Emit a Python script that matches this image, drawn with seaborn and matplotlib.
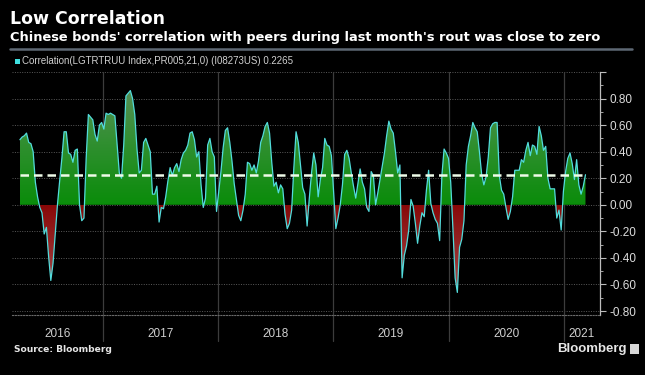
import numpy as np
import pandas as pd
import matplotlib
matplotlib.use("Agg")
import matplotlib.pyplot as plt
import matplotlib.dates as mdates
from matplotlib.colors import LinearSegmentedColormap
from matplotlib.path import Path
from matplotlib.lines import Line2D
from matplotlib.patches import Rectangle
import seaborn as sns

# --- data (weekly samples) ---
start_date = "2016-04-13"
corr_values = [
    0.49, 0.51, 0.52, 0.54, 0.47, 0.46, 0.40, 0.17, 0.06, -0.02,
    -0.06, -0.22, -0.17, -0.39, -0.57, -0.44, -0.22, 0.00, 0.18, 0.35,
    0.55, 0.55, 0.39, 0.38, 0.32, 0.41, 0.42, 0.00, -0.12, -0.10,
    0.35, 0.68, 0.66, 0.64, 0.53, 0.48, 0.60, 0.62, 0.57, 0.69,
    0.68, 0.69, 0.68, 0.67, 0.45, 0.24, 0.20, 0.45, 0.82, 0.84,
    0.86, 0.80, 0.68, 0.42, 0.24, 0.26, 0.47, 0.50, 0.45, 0.40,
    0.08, 0.08, 0.14, -0.13, -0.02, -0.03, 0.06, 0.18, 0.28, 0.22,
    0.28, 0.31, 0.25, 0.34, 0.39, 0.41, 0.45, 0.54, 0.55, 0.49,
    0.36, 0.40, 0.15, -0.02, 0.05, 0.45, 0.50, 0.40, 0.36, -0.05,
    0.10, 0.25, 0.43, 0.56, 0.58, 0.47, 0.33, 0.16, 0.04, -0.08,
    -0.12, -0.04, 0.08, 0.32, 0.31, 0.26, 0.30, 0.24, 0.33, 0.47,
    0.52, 0.59, 0.62, 0.54, 0.32, 0.14, 0.17, 0.09, 0.15, 0.12,
    -0.07, -0.18, -0.14, -0.04, 0.28, 0.55, 0.47, 0.30, 0.13, 0.08,
    -0.16, 0.05, 0.24, 0.39, 0.30, 0.06, 0.19, 0.28, 0.50, 0.45,
    0.44, 0.37, 0.09, -0.18, -0.10, 0.00, 0.15, 0.38, 0.41, 0.35,
    0.24, 0.14, 0.05, 0.16, 0.27, 0.17, 0.12, -0.02, -0.05, 0.25,
    0.22, 0.00, 0.09, 0.19, 0.29, 0.39, 0.52, 0.63, 0.57, 0.54,
    0.40, 0.24, 0.30, -0.55, -0.38, -0.31, -0.19, 0.04, -0.01, -0.14,
    -0.29, -0.16, -0.06, -0.09, 0.11, 0.26, 0.01, -0.06, -0.11, -0.14,
    -0.27, 0.22, 0.42, 0.39, 0.35, 0.17, -0.18, -0.55, -0.66, -0.32,
    -0.26, -0.12, 0.30, 0.44, 0.52, 0.62, 0.58, 0.55, 0.40, 0.23,
    0.15, 0.21, 0.36, 0.58, 0.61, 0.62, 0.62, 0.22, 0.11, 0.08,
    -0.02, -0.11, -0.05, 0.06, 0.26, 0.26, 0.26, 0.34, 0.32, 0.41,
    0.47, 0.37, 0.45, 0.44, 0.38, 0.59, 0.52, 0.41, 0.44, 0.20,
    0.12, 0.12, 0.12, -0.10, -0.04, -0.19, 0.10, 0.25, 0.35, 0.39,
    0.31, 0.19, 0.34, 0.15, 0.08, 0.14, 0.2265,
]
last_value = 0.2265
years = [2016, 2017, 2018, 2019, 2020, 2021]
ytick_values = [-0.8, -0.6, -0.4, -0.2, 0.0, 0.2, 0.4, 0.6, 0.8, 1.0]
legend_label = "Correlation(LGTRTRUU Index,PR005,21,0) (I08273US) 0.2265"

# --- style ---
sns.set_style("dark", {"axes.facecolor": "black", "figure.facecolor": "black"})
plt.rcParams['font.family'] = ['Liberation Sans', 'DejaVu Sans']
narrow = ['Liberation Sans', 'DejaVu Sans']
wide = ['DejaVu Sans']

W, H = 645, 375
fig = plt.figure(figsize=(W / 100, H / 100), dpi=100)
fig.patch.set_facecolor("black")
ax = fig.add_axes([12 / W, 1 - 315 / H, (600 - 12) / W, (315 - 72) / H])
ax.set_facecolor("black")

dates = pd.date_range(start_date, periods=len(corr_values), freq="7D")
df = pd.DataFrame({"date": dates, "corr": corr_values})
y = df["corr"].to_numpy()

# cyan line
sns.lineplot(data=df, x="date", y="corr", ax=ax, color="#52dcdc", lw=0.9, zorder=4)

# gradient fills (green above 0, red below)
xnum = mdates.date2num(df["date"])
pos = ax.fill_between(xnum, 0, y, where=y >= 0, interpolate=True, facecolor="none", edgecolor="none")
neg = ax.fill_between(xnum, 0, y, where=y <= 0, interpolate=True, facecolor="none", edgecolor="none")

green_cm = LinearSegmentedColormap.from_list("g", ["#0a8c0a", "#2f8f2f", "#5a8f5a"])
red_cm = LinearSegmentedColormap.from_list("r", ["#a65a5a", "#962a2a", "#880808"])
grad = np.linspace(0, 1, 256).reshape(-1, 1)
im_g = ax.imshow(grad, extent=[xnum[0], xnum[-1], 0, 0.9], origin="lower", cmap=green_cm,
                 aspect="auto", zorder=2)
im_g.set_clip_path(Path.make_compound_path(*pos.get_paths()), transform=ax.transData)
im_r = ax.imshow(grad, extent=[xnum[0], xnum[-1], -0.7, 0], origin="lower", cmap=red_cm,
                 aspect="auto", zorder=2)
im_r.set_clip_path(Path.make_compound_path(*neg.get_paths()), transform=ax.transData)

# dashed latest value line
ax.plot([xnum[0], xnum[-1]], [last_value, last_value], color="#eefbe8", lw=1.8,
        dashes=(3.4, 2.0), zorder=5)

# limits
x_left = mdates.date2num(pd.Timestamp("2016-03-19"))
x_right = mdates.date2num(pd.Timestamp("2021-04-25"))
ax.set_xlim(x_left, x_right)
ax.set_ylim(-0.83, 1.0)

# horizontal dotted grid
for v in ytick_values:
    ax.axhline(v, color="#5a5a5a", lw=0.7, ls=(0, (1, 1.5)), zorder=1)

# year separators and labels
for yr in years[1:]:
    xv = mdates.date2num(pd.Timestamp(f"{yr}-01-01"))
    ax.axvline(xv, ymin=-0.105, ymax=1, color="#3c3c3c", lw=0.9, clip_on=False, zorder=1)
bounds = [x_left] + [mdates.date2num(pd.Timestamp(f"{yr}-01-01")) for yr in years[1:]] + [x_right]
for i, yr in enumerate(years):
    ax.text((bounds[i] + bounds[i + 1]) / 2, -0.078, str(yr), transform=ax.get_xaxis_transform(),
            ha="center", va="center", color="#cfcfcf", fontsize=8.5, family=narrow)

# axes styling
ax.grid(False)
for s in ["top", "left"]:
    ax.spines[s].set_visible(False)
ax.spines["bottom"].set_color("#6a6a6a")
ax.spines["bottom"].set_linestyle((0, (1, 1.5)))
ax.spines["bottom"].set_linewidth(0.8)
ax.spines["right"].set_color("#bdbdbd")
ax.spines["right"].set_linewidth(0.9)

ax.xaxis.set_major_locator(mdates.MonthLocator(bymonth=[1, 4, 7, 10]))
ax.xaxis.set_major_formatter(plt.NullFormatter())
ax.tick_params(axis="x", which="major", direction="inout", length=4, width=0.7, color="#8a8a8a")
ax.set_xlabel("")
ax.set_ylabel("")

ax.yaxis.tick_right()
ax.set_yticks(ytick_values)
ax.set_yticklabels([f"{v:.2f}" if v < 0.95 else "" for v in ytick_values])
ax.set_yticks(np.arange(-0.8, 1.0, 0.1), minor=True)
ax.tick_params(axis="y", which="major", direction="out", length=4, width=0.8, color="#bdbdbd",
               labelcolor="#dcdcdc", labelsize=8.5, pad=2.5)
ax.tick_params(axis="y", which="minor", direction="out", length=2, width=0.6, color="#bdbdbd")
for lab in ax.get_yticklabels():
    lab.set_family(narrow)

# titles
fig.text(10 / W, 1 - 19 / H, "Low Correlation", color="white", fontsize=12.5, fontweight="bold",
         va="center", ha="left", family=wide)
fig.text(10 / W, 1 - 37.5 / H,
         "Chinese bonds' correlation with peers during last month's rout was close to zero",
         color="white", fontsize=9.35, fontweight="bold", va="center", ha="left", family=wide)
fig.add_artist(Line2D([10 / W, 632 / W], [1 - 49 / H] * 2, color="#5e6874", lw=1.8))

# legend
fig.patches.append(Rectangle((15 / W, 1 - 64 / H), 5 / W, 5 / H, transform=fig.transFigure,
                             facecolor="#3fe0e0", edgecolor="none"))
fig.text(22 / W, 1 - 61.5 / H, legend_label, color="#d0d0d0", fontsize=7, va="center",
         ha="left", family=narrow)

# footer
fig.text(14 / W, 1 - 349 / H, "Source: Bloomberg", color="#e6e6e6", fontsize=6.6, fontweight="bold",
         va="center", ha="left", family=wide)
fig.text(627 / W, 1 - 349 / H, "Bloomberg", color="#e6e6e6", fontsize=9.5, fontweight="bold",
         va="center", ha="right", family=narrow)
fig.patches.append(Rectangle((630 / W, 1 - 354 / H), 9 / W, 10 / H, transform=fig.transFigure,
                             facecolor="#d8d8d8", edgecolor="none"))

fig.savefig("out.png", dpi=100, facecolor="black")
